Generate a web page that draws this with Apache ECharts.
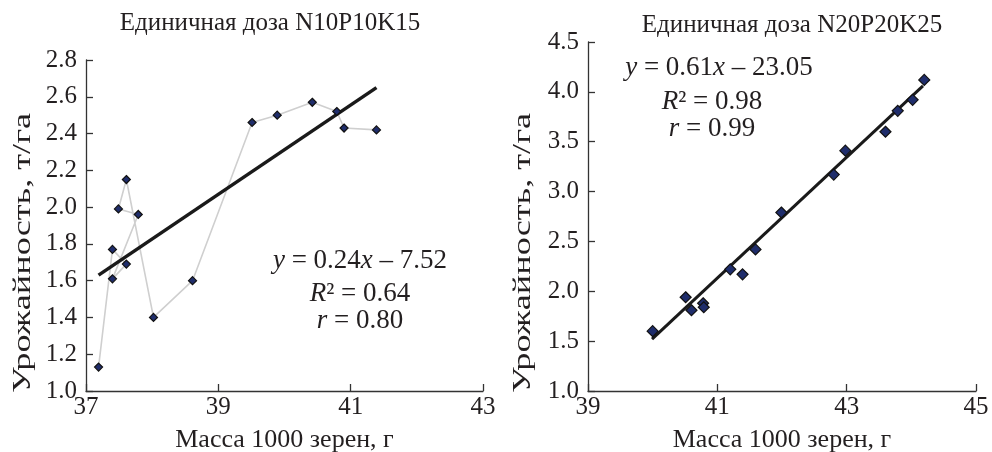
<!DOCTYPE html>
<html>
<head>
<meta charset="utf-8">
<script src="https://cdn.jsdelivr.net/npm/echarts@6/dist/echarts.min.js"></script>
<style>
  html, body { margin: 0; padding: 0; background: #fff; }
  #chart { width: 992px; height: 452px; }
</style>
</head>
<body>
<div id="chart"></div>
<script>
// левый график: N10P10K15 (порядок точек как в ломаной)
const massLeft = [37.19, 37.40, 37.61, 37.40, 37.79, 37.49, 37.61, 38.02, 38.61, 39.51, 39.89, 40.42, 40.79, 40.90, 41.39];
const yieldLeft = [1.13, 1.77, 1.69, 1.61, 1.96, 1.99, 2.15, 1.40, 1.60, 2.46, 2.50, 2.57, 2.52, 2.43, 2.42];
const trendLeftX = [37.19, 41.39];
const trendLeftY = [1.63, 2.65];

// правый график: N20P20K25
const massRight = [40.00, 40.51, 40.60, 40.78, 40.79, 41.20, 41.39, 41.59, 41.99, 42.80, 42.98, 43.60, 43.79, 44.02, 44.20];
const yieldRight = [1.60, 1.94, 1.81, 1.88, 1.84, 2.22, 2.17, 2.42, 2.79, 3.17, 3.41, 3.60, 3.81, 3.92, 4.12];
const trendRightX = [39.99, 44.18];
const trendRightY = [1.52, 4.06];

const titles = ['Единичная доза N10P10K15', 'Единичная доза N20P20K25'];
const xName = 'Масса 1000 зерен, г';
const yName = 'Урожайность, т/га';

const FONT = '"Liberation Serif", "Times New Roman", serif';
const INK = '#231f20';

const chart = echarts.init(document.getElementById('chart'));

function pairs(xs, ys) {
  return xs.map((x, i) => [x, ys[i]]);
}

function xAxis(idx, min, max) {
  return {
    type: 'value', gridIndex: idx, min: min, max: max, interval: 2,
    name: xName, nameLocation: 'middle', nameGap: 36,
    nameTextStyle: { fontFamily: FONT, fontSize: 26, color: INK },
    axisLine: { lineStyle: { color: '#333', width: 1.3 } },
    axisTick: { inside: true, length: 7, lineStyle: { color: '#333', width: 1.3 } },
    axisLabel: { fontFamily: FONT, fontSize: 25, color: INK, margin: 4 },
    splitLine: { show: false }
  };
}

function yAxis(idx, min, max, step) {
  return {
    type: 'value', gridIndex: idx, min: min, max: max, interval: step,
    axisLine: { show: true, lineStyle: { color: '#333', width: 1.3 } },
    axisTick: { show: true, inside: true, length: 7, lineStyle: { color: '#333', width: 1.3 } },
    axisLabel: { fontFamily: FONT, fontSize: 25, color: INK, margin: 9, formatter: v => v.toFixed(1) },
    splitLine: { show: false }
  };
}

const rich = {
  i: { fontFamily: FONT, fontSize: 27, fontStyle: 'italic', fill: INK, color: INK }
};

function eq(x, y, text) {
  return {
    type: 'text', x: x, y: y,
    style: { text: text, rich: rich, font: '27px ' + FONT, fill: INK, align: 'center', verticalAlign: 'middle' }
  };
}

function label(x, y, text) {
  return {
    type: 'text', x: x, y: y,
    style: { text: text, font: '25px ' + FONT, fill: INK, align: 'center', verticalAlign: 'middle' }
  };
}

// подпись оси Y вытянута по длине, как в оригинале
function yLabel(x, y) {
  return {
    type: 'text', x: x, y: y, rotation: Math.PI / 2, scaleX: 1.45,
    style: { text: yName, font: '25px ' + FONT, fill: INK, align: 'center', verticalAlign: 'middle' }
  };
}

const option = {
  animation: false,
  backgroundColor: '#fff',
  grid: [
    { left: 86, right: 509, top: 60, bottom: 61, outerBoundsMode: 'none', containLabel: false },
    { left: 588, right: 16, top: 42, bottom: 61, outerBoundsMode: 'none', containLabel: false }
  ],
  xAxis: [xAxis(0, 37, 43), xAxis(1, 39, 45)],
  yAxis: [yAxis(0, 1.0, 2.8, 0.2), yAxis(1, 1.0, 4.5, 0.5)],
  series: [
    {
      type: 'line', xAxisIndex: 0, yAxisIndex: 0,
      data: pairs(massLeft, yieldLeft), showSymbol: false,
      lineStyle: { color: '#cfcfcf', width: 1.6 }, z: 2
    },
    {
      type: 'line', xAxisIndex: 0, yAxisIndex: 0,
      data: pairs(trendLeftX, trendLeftY), showSymbol: false,
      lineStyle: { color: '#1a1a1a', width: 3.5 }, z: 3
    },
    {
      type: 'scatter', xAxisIndex: 0, yAxisIndex: 0,
      data: pairs(massLeft, yieldLeft), symbol: 'diamond', symbolSize: 8,
      itemStyle: { color: '#1f2d6b', borderColor: '#111', borderWidth: 1.2, opacity: 1 }, z: 4
    },
    {
      type: 'line', xAxisIndex: 1, yAxisIndex: 1,
      data: pairs(trendRightX, trendRightY), showSymbol: false,
      lineStyle: { color: '#1a1a1a', width: 3 }, z: 3
    },
    {
      type: 'scatter', xAxisIndex: 1, yAxisIndex: 1,
      data: pairs(massRight, yieldRight), symbol: 'diamond', symbolSize: 11,
      itemStyle: { color: '#1f2d6b', borderColor: '#111', borderWidth: 1.2, opacity: 1 }, z: 4
    }
  ],
  graphic: [
    label(270, 23, titles[0]),
    label(792, 25, titles[1]),
    yLabel(23, 253),
    yLabel(523, 253),
    eq(360, 261, '{i|y} = 0.24{i|x} – 7.52'),
    eq(360, 294, '{i|R}² = 0.64'),
    eq(360, 321, '{i|r} = 0.80'),
    eq(719, 68, '{i|y} = 0.61{i|x} – 23.05'),
    eq(712, 102, '{i|R}² = 0.98'),
    eq(712, 129, '{i|r} = 0.99')
  ]
};

chart.setOption(option);
</script>
</body>
</html>
